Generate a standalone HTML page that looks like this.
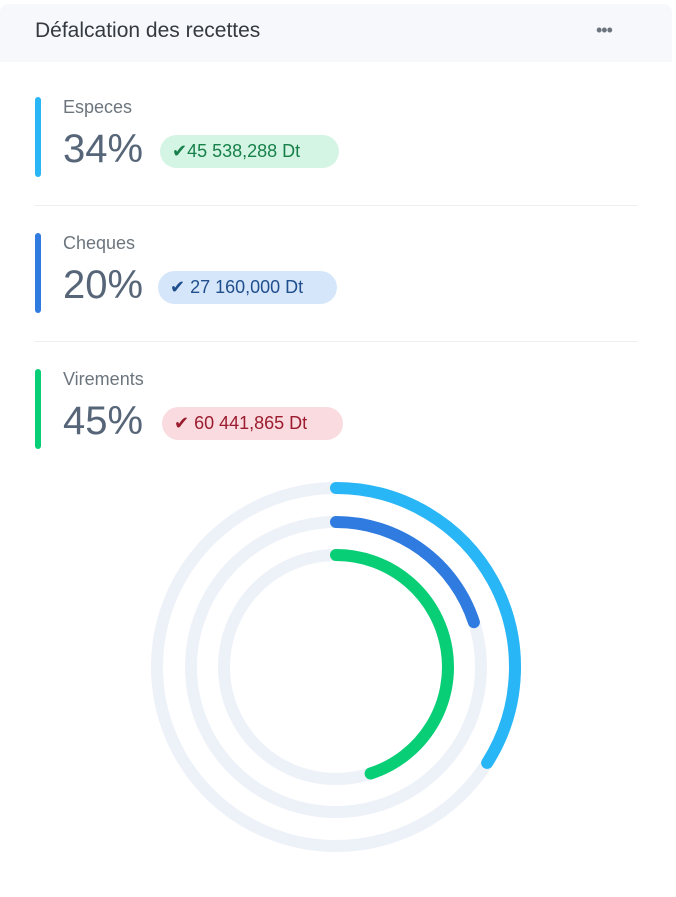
<!DOCTYPE html>
<html><head><meta charset="utf-8"><style>
body{margin:0;width:676px;height:897px;background:#fff;font-family:"Liberation Sans",sans-serif;position:relative;overflow:hidden}
.card{position:absolute;left:0;top:4px;width:672px;height:893px;background:#fff;border-radius:8px}
.hdr{position:absolute;left:0;top:0;width:672px;height:58px;background:#f7f8fc;border-radius:8px 8px 0 0}
.title{position:absolute;left:35px;top:15px;font-size:21px;color:#343a40}
.dots{position:absolute;left:596px;top:16px;font-size:18px;color:#6c757d;letter-spacing:-1px}
.item{position:absolute;left:35px;width:602px;height:80px}
.bar{position:absolute;left:0;top:0;width:6px;height:80px;border-radius:3px}
.lbl{position:absolute;left:28px;top:0;font-size:18px;color:#6c757d}
.pct{position:absolute;left:28px;top:30px;font-size:40px;color:#566578}
.badge{position:absolute;top:38px;height:33px;border-radius:17px;font-size:18px;line-height:33px;padding:0 12px;box-sizing:border-box}
.sep{position:absolute;left:35px;width:602px;height:1px;background:#eceef2}
</style></head><body>
<div class="card">
<div class="hdr">
<div class="title">Défalcation des recettes</div>
<div class="dots">•••</div>
</div>
</div>
<div class="item" style="top:97px">
<div class="bar" style="background:#29b6f6"></div>
<div class="lbl">Especes</div>
<div class="pct">34%</div>
<div class="badge" style="left:125px;width:179px;background:#d4f5e4;color:#17804a">✔45 538,288 Dt</div>
</div>
<div class="sep" style="top:205px"></div>
<div class="item" style="top:233px">
<div class="bar" style="background:#2f7be0"></div>
<div class="lbl">Cheques</div>
<div class="pct">20%</div>
<div class="badge" style="left:123px;width:179px;background:#d6e6fa;color:#1f4e8c">✔ 27 160,000 Dt</div>
</div>
<div class="sep" style="top:341px"></div>
<div class="item" style="top:369px">
<div class="bar" style="background:#08cf76"></div>
<div class="lbl">Virements</div>
<div class="pct">45%</div>
<div class="badge" style="left:127px;width:181px;background:#fadbe0;color:#9b1c2e">✔ 60 441,865 Dt</div>
</div>
<svg id="chart" width="676" height="897" style="position:absolute;left:0;top:0"></svg>
<script>
const categories=["Especes","Cheques","Virements"];
const values=[34,20,45];
const colors=["#29b6f6","#2f7be0","#08cf76"];
const radii=[179,145,112];
const cx=336,cy=667,sw=12,NS="http://www.w3.org/2000/svg";
const svg=document.getElementById('chart');
function ang(v){return v/100*2*Math.PI;}
function pt(r,a){return [cx+r*Math.sin(a),cy-r*Math.cos(a)];}
values.forEach((v,i)=>{
  const r=radii[i];
  const t=document.createElementNS(NS,'circle');
  t.setAttribute('cx',cx);t.setAttribute('cy',cy);t.setAttribute('r',r);
  t.setAttribute('fill','none');t.setAttribute('stroke','#edf1f8');t.setAttribute('stroke-width',sw);
  
  
  svg.appendChild(t);
  const a=ang(v),[x0,y0]=pt(r,0),[x1,y1]=pt(r,a);
  const p=document.createElementNS(NS,'path');
  p.setAttribute('d',`M${x0},${y0} A${r},${r} 0 ${a>Math.PI?1:0} 1 ${x1},${y1}`);
  p.setAttribute('fill','none');p.setAttribute('stroke',colors[i]);p.setAttribute('stroke-width',sw);p.setAttribute('stroke-linecap','round');
  
  
  svg.appendChild(p);
});
</script>
</body></html>
